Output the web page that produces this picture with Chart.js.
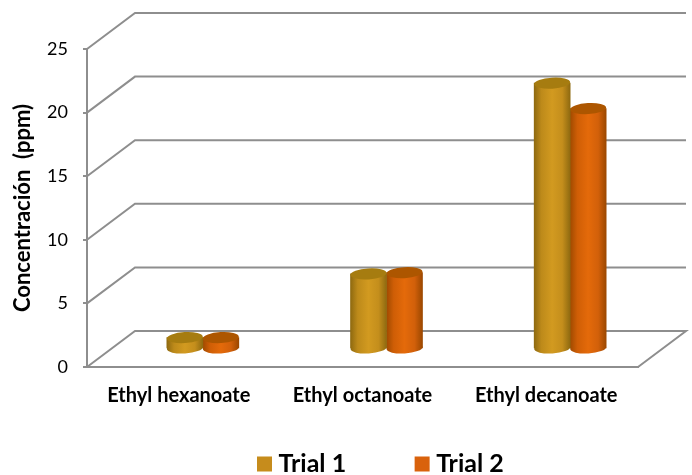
<!DOCTYPE html>
<html>
<head>
<meta charset="utf-8">
<style>
  html, body { margin: 0; padding: 0; background: #fff; }
  #wrap { width: 692px; height: 475px; }
</style>
<script src="https://cdn.jsdelivr.net/npm/chart.js@4"></script>
</head>
<body>
<div id="wrap"><canvas id="chart" width="692" height="475"></canvas></div>
<script>
const categories = ['Ethyl hexanoate', 'Ethyl octanoate', 'Ethyl decanoate'];
const trial1 = [0.9, 5.9, 20.9];
const trial2 = [0.9, 6.0, 18.9];
const seriesNames = ['Trial 1', 'Trial 2'];

const legendColors = ['#c68c1c', '#d9620c'];
const sideColors = [
  ['#8f6a10', '#bd8a1a', '#d29a20', '#c48e1c', '#8f6a10'],
  ['#a04a00', '#cf5e06', '#e46a0a', '#d2600a', '#9c4800']
];
const capColors = ['#a67c10', '#ad5600'];
const gridColor = '#8e8e8e';
const FONT = 'Lato, Carlito, sans-serif';

// depth of the fake 3D box, and where the bars sit inside it
const depthX = 48, depthY = 36;
const barShiftX = 24, barShiftY = 18;
const barWidth = 36;

function sideGradient(c2d, x, i) {
  const g = c2d.createLinearGradient(x - barWidth / 2, 0, x + barWidth / 2, 0);
  const cols = sideColors[i];
  g.addColorStop(0, cols[0]);
  g.addColorStop(0.2, cols[1]);
  g.addColorStop(0.5, cols[2]);
  g.addColorStop(0.78, cols[3]);
  g.addColorStop(1, cols[4]);
  return g;
}

function barFill(context) {
  const chart = context.chart;
  const xScale = chart.scales.x;
  if (!xScale || context.dataIndex === undefined) return legendColors[context.datasetIndex];
  const x = xScale.getPixelForValue(context.dataIndex) + (context.datasetIndex - 0.5) * barWidth;
  return sideGradient(chart.ctx, x, context.datasetIndex);
}

const box3d = {
  id: 'box3d',
  afterLayout(chart) {
    // legend sits off centre in the original
    chart.legend.left = 188.5;
    chart.legend.top = 377;
  },
  beforeDatasetsDraw(chart) {
    const ctx = chart.ctx;
    const y = chart.scales.y;
    const left = chart.chartArea.left, right = chart.chartArea.right;
    ctx.save();
    ctx.strokeStyle = gridColor;
    ctx.lineWidth = 2;
    y.ticks.forEach(t => {
      const py = y.getPixelForValue(t.value);
      ctx.beginPath();
      ctx.moveTo(left, py);
      ctx.lineTo(left + depthX, py - depthY);
      ctx.lineTo(right + depthX, py - depthY);
      if (t.value === 0) ctx.lineTo(right, py);
      ctx.stroke();
    });
    ctx.restore();
    ctx.save();
    ctx.translate(barShiftX, -barShiftY);
  },
  beforeDatasetDraw(chart, args) {
    const ctx = chart.ctx;
    args.meta.data.forEach(el => {
      ctx.fillStyle = sideGradient(ctx, el.x, args.index);
      ctx.beginPath();
      ctx.ellipse(el.x, el.base, barWidth / 2, 5.5, -0.06, 0, Math.PI * 2);
      ctx.fill();
    });
  },
  afterDatasetDraw(chart, args) {
    const ctx = chart.ctx;
    args.meta.data.forEach(el => {
      ctx.fillStyle = capColors[args.index];
      ctx.beginPath();
      ctx.ellipse(el.x, el.y, barWidth / 2, 5.5, -0.06, 0, Math.PI * 2);
      ctx.fill();
    });
  },
  afterDatasetsDraw(chart) {
    chart.ctx.restore();
  }
};

new Chart(document.getElementById('chart'), {
  type: 'bar',
  data: {
    labels: categories,
    datasets: [
      { label: seriesNames[0], data: trial1, backgroundColor: barFill, borderWidth: 0, barThickness: barWidth },
      { label: seriesNames[1], data: trial2, backgroundColor: barFill, borderWidth: 0, barThickness: barWidth }
    ]
  },
  plugins: [box3d],
  options: {
    responsive: false,
    animation: false,
    layout: { padding: { top: 49, right: 54, left: 0, bottom: 0 } },
    plugins: {
      tooltip: { enabled: false },
      legend: {
        position: 'bottom',
        align: 'start',
        maxHeight: 30,
        labels: {
          font: { family: FONT, size: 25, weight: 'bold' },
          color: '#000',
          padding: 74.5,
          usePointStyle: true,
          pointStyle: 'rect',
          boxWidth: 3,
          boxHeight: 15,
          generateLabels: () => seriesNames.map((name, i) => ({
            text: name, fillStyle: legendColors[i], strokeStyle: legendColors[i],
            lineWidth: 0, pointStyle: 'rect', datasetIndex: i
          }))
        }
      }
    },
    scales: {
      x: {
        grid: { display: false },
        border: { color: gridColor, width: 2 },
        ticks: {
          color: '#000',
          padding: 9,
          maxRotation: 0,
          font: { family: FONT, size: 20, weight: 'bold' }
        },
        afterFit(scale) { scale.height = 78; }
      },
      y: {
        min: 0,
        max: 25,
        ticks: {
          stepSize: 5,
          color: '#000',
          padding: 15,
          font: { family: FONT, size: 18 }
        },
        grid: { drawOnChartArea: false, color: gridColor, lineWidth: 2, tickLength: 4 },
        border: { color: gridColor, width: 2 },
        title: {
          display: true,
          text: 'Concentración  (ppm)',
          color: '#000',
          padding: { top: 10, bottom: 0 },
          font: { family: FONT, size: 22, weight: 'bold' }
        },
        afterFit(scale) { scale.width = 87; }
      }
    }
  }
});
</script>
</body>
</html>
